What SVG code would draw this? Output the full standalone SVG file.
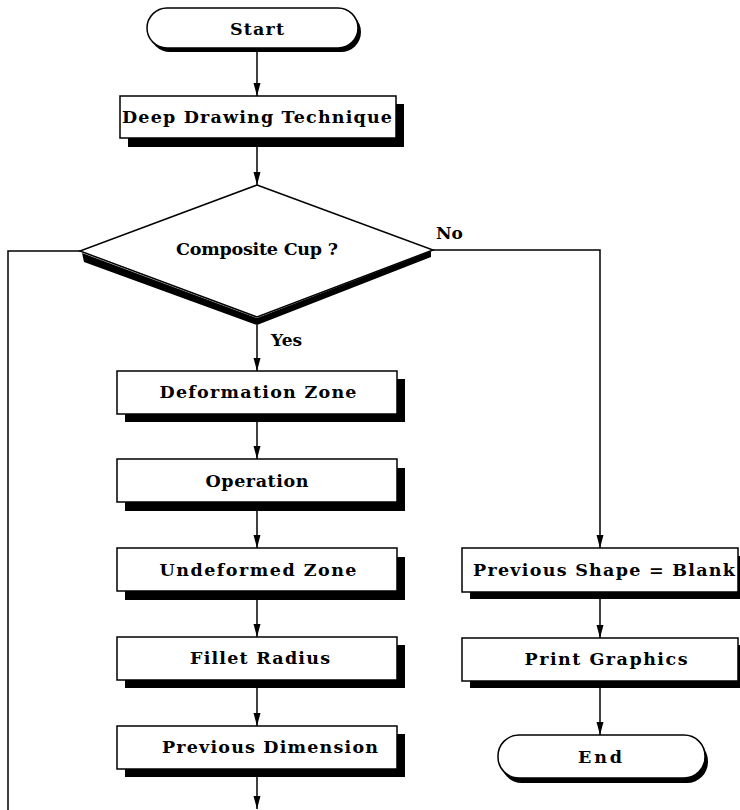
<svg xmlns="http://www.w3.org/2000/svg" width="740" height="810" viewBox="0 0 740 810">
<style>
.box{fill:#fff;stroke:#000;stroke-width:1.5}
.sh{fill:#000}
.t{font-family:"DejaVu Serif","Liberation Serif",serif;font-weight:bold;font-size:17.5px;fill:#000;text-anchor:middle}
.lbl{font-family:"DejaVu Serif","Liberation Serif",serif;font-weight:bold;font-size:17px;fill:#000}
.c{fill:none;stroke:#000;stroke-width:1.5}
</style>
<defs>
<marker id="ah" markerUnits="userSpaceOnUse" markerWidth="14" markerHeight="8" refX="13" refY="3.5" orient="auto">
<path d="M0,0 L13,3.5 L0,7 z" fill="#000"/>
</marker>
</defs>
<rect width="740" height="810" fill="#fff"/>

<g id="connectors">
<line class="c" x1="257" y1="51" x2="257" y2="96" marker-end="url(#ah)"/>
<line class="c" x1="257" y1="147" x2="257" y2="185" marker-end="url(#ah)"/>
<line class="c" x1="257" y1="325" x2="257" y2="371" marker-end="url(#ah)"/>
<line class="c" x1="257" y1="422" x2="257" y2="459" marker-end="url(#ah)"/>
<line class="c" x1="257" y1="511" x2="257" y2="548" marker-end="url(#ah)"/>
<line class="c" x1="257" y1="600" x2="257" y2="637" marker-end="url(#ah)"/>
<line class="c" x1="257" y1="688" x2="257" y2="726" marker-end="url(#ah)"/>
<line class="c" x1="257" y1="777" x2="257" y2="809" marker-end="url(#ah)"/>
<polyline class="c" points="80,251 8,251 8,810"/>
<polyline class="c" points="433,250 600,250 600,548" marker-end="url(#ah)"/>
<line class="c" x1="600" y1="599" x2="600" y2="638" marker-end="url(#ah)"/>
<line class="c" x1="600" y1="688" x2="600" y2="735" marker-end="url(#ah)"/>
<text class="lbl" x="436" y="239">No</text>
<text class="lbl" x="271" y="346">Yes</text>
</g>

<g id="start">
<rect class="sh" x="150" y="12" width="211" height="40" rx="20"/>
<rect class="box" x="147" y="8" width="211" height="40" rx="20"/>
<text class="t" x="257" y="35" textLength="54" lengthAdjust="spacing">Start</text>
</g>

<g id="deep-drawing">
<rect class="sh" x="128" y="104" width="276" height="43"/>
<rect class="box" x="120" y="96" width="276" height="42"/>
<text class="t" x="257" y="123" textLength="270" lengthAdjust="spacing">Deep Drawing Technique</text>
</g>

<g id="composite-cup">
<polygon class="sh" points="82,253 257,318 431,251 431,257 257,325 84,262"/>
<polygon class="box" points="257,185 433,250 257,317 80,251"/>
<text class="t" x="257" y="255" textLength="162" lengthAdjust="spacing">Composite Cup ?</text>
</g>

<g id="deformation-zone">
<rect class="sh" x="125" y="379" width="280" height="43"/>
<rect class="box" x="117" y="371" width="280" height="43"/>
<text class="t" x="258" y="398" textLength="197" lengthAdjust="spacing">Deformation Zone</text>
</g>

<g id="operation">
<rect class="sh" x="125" y="468" width="280" height="43"/>
<rect class="box" x="117" y="459" width="280" height="43"/>
<text class="t" x="257" y="487" textLength="103" lengthAdjust="spacing">Operation</text>
</g>

<g id="undeformed-zone">
<rect class="sh" x="125" y="557" width="280" height="43"/>
<rect class="box" x="117" y="548" width="280" height="43"/>
<text class="t" x="258" y="576" textLength="197" lengthAdjust="spacing">Undeformed Zone</text>
</g>

<g id="fillet-radius">
<rect class="sh" x="125" y="645" width="280" height="43"/>
<rect class="box" x="117" y="637" width="280" height="43"/>
<text class="t" x="260" y="664" textLength="140" lengthAdjust="spacing">Fillet Radius</text>
</g>

<g id="previous-dimension">
<rect class="sh" x="125" y="734" width="280" height="43"/>
<rect class="box" x="117" y="726" width="280" height="43"/>
<text class="t" x="270" y="753" textLength="216" lengthAdjust="spacing">Previous Dimension</text>
</g>

<g id="previous-shape">
<rect class="sh" x="470" y="556" width="280" height="43"/>
<rect class="box" x="462" y="548" width="276" height="44"/>
<text class="t" x="604" y="576" textLength="262" lengthAdjust="spacing">Previous Shape = Blank</text>
</g>

<g id="print-graphics">
<rect class="sh" x="470" y="645" width="280" height="43"/>
<rect class="box" x="462" y="638" width="276" height="43"/>
<text class="t" x="606" y="665" textLength="163" lengthAdjust="spacing">Print Graphics</text>
</g>

<g id="end">
<rect class="sh" x="501" y="740" width="207" height="43" rx="21"/>
<rect class="box" x="498" y="735" width="207" height="43" rx="21"/>
<text class="t" x="600" y="763" textLength="44" lengthAdjust="spacing">End</text>
</g>
</svg>
